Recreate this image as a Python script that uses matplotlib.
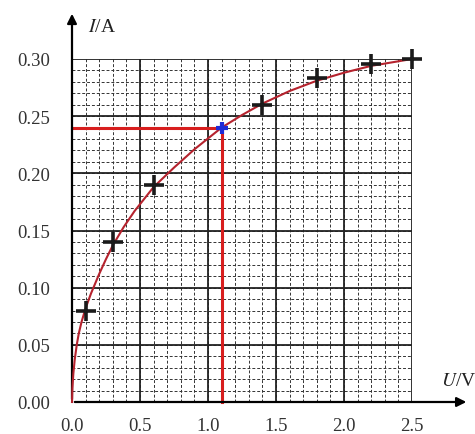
import matplotlib
matplotlib.use("Agg")
import matplotlib.pyplot as plt
import numpy as np

plt.rcParams['font.family'] = ['Liberation Serif', 'DejaVu Serif']
plt.rcParams['mathtext.fontset'] = 'stix'

# measured points (crosses)
U_meas = [0.1, 0.3, 0.6, 1.4, 1.8, 2.2, 2.5]
I_meas = [0.08, 0.14, 0.19, 0.26, 0.283, 0.296, 0.30]
# highlighted point
U_mark = [1.1]
I_mark = [0.24]
# fitted curve
U_curve = [0.0, 0.003, 0.01, 0.02, 0.035, 0.05, 0.07, 0.1, 0.14, 0.2, 0.25, 0.3, 0.38,
           0.46, 0.6, 0.75, 0.9, 1.1, 1.25, 1.4, 1.6, 1.8, 2.0, 2.2, 2.35, 2.5]
I_curve = [0.0, 0.012, 0.025, 0.037, 0.05, 0.06, 0.07, 0.082, 0.095, 0.112, 0.125, 0.137,
           0.153, 0.167, 0.188, 0.205, 0.221, 0.240, 0.251, 0.261, 0.272, 0.281, 0.288,
           0.294, 0.297, 0.30]
x_ticks = [0.0, 0.5, 1.0, 1.5, 2.0, 2.5]
x_labels = ['0.0', '0.5', '1.0', '1.5', '2.0', '2.5']
y_ticks = [0.00, 0.05, 0.10, 0.15, 0.20, 0.25, 0.30]
y_labels = ['0.00', '0.05', '0.10', '0.15', '0.20', '0.25', '0.30']

fig = plt.figure(figsize=(4.75, 4.35), dpi=100)
ax = fig.add_axes([72/475, 32/435, 340/475, 343/435])
ax.set_xlim(0, 2.5)
ax.set_ylim(0, 0.30)
for s in ax.spines.values():
    s.set_visible(False)

# minor dashed grid
for x in np.arange(0.1, 2.5, 0.1):
    ax.axvline(x, color='#333333', lw=0.7, ls=(0, (3, 2)), zorder=1)
for y in np.arange(0.01, 0.30, 0.01):
    ax.axhline(y, color='#333333', lw=0.7, ls=(0, (3, 2)), zorder=1)
# major grid
for x in x_ticks[1:]:
    ax.axvline(x, color='#222222', lw=1.3, zorder=2)
for y in y_ticks[1:]:
    ax.axhline(y, color='#222222', lw=1.3, zorder=2)

# axes with arrows
ax.annotate('', xy=(2.92, 0), xytext=(0, 0), xycoords='data',
            arrowprops=dict(arrowstyle='-|>', color='black', lw=1.6, mutation_scale=14),
            annotation_clip=False, zorder=5)
ax.annotate('', xy=(0, 0.342), xytext=(0, 0), xycoords='data',
            arrowprops=dict(arrowstyle='-|>', color='black', lw=1.6, mutation_scale=14),
            annotation_clip=False, zorder=5)

ax.text(0.12, 0.328, r'$I$/A', fontsize=14, ha='left', va='center', color='#222222')
ax.text(2.71, 0.019, r'$U$/V', fontsize=14, ha='left', va='center', color='#222222')

# red guide lines
ax.plot([0, U_mark[0]], [I_mark[0], I_mark[0]], color='#d81e1e', lw=2.2, zorder=4, clip_on=False)
ax.plot([U_mark[0], U_mark[0]], [0, I_mark[0]], color='#d81e1e', lw=2.2, zorder=4, clip_on=False)

# curve
ax.plot(U_curve, I_curve, color='#b5222d', lw=1.5, zorder=6, clip_on=False)

# measured points
ax.plot(U_meas, I_meas, ls='none', marker='+', ms=15, mew=2.6, color='#1a1a1a', zorder=7, clip_on=False)
ax.plot(U_mark, I_mark, ls='none', marker='+', ms=9, mew=3, color='#1f2bd6', zorder=8, clip_on=False)

ax.set_xticks(x_ticks)
ax.set_xticklabels(x_labels)
ax.set_yticks(y_ticks)
ax.set_yticklabels(y_labels)
ax.tick_params(length=0, labelsize=13.5, colors='#333333')
ax.tick_params(axis='y', pad=16)
ax.tick_params(axis='x', pad=11)

fig.savefig('out.png', dpi=100)
